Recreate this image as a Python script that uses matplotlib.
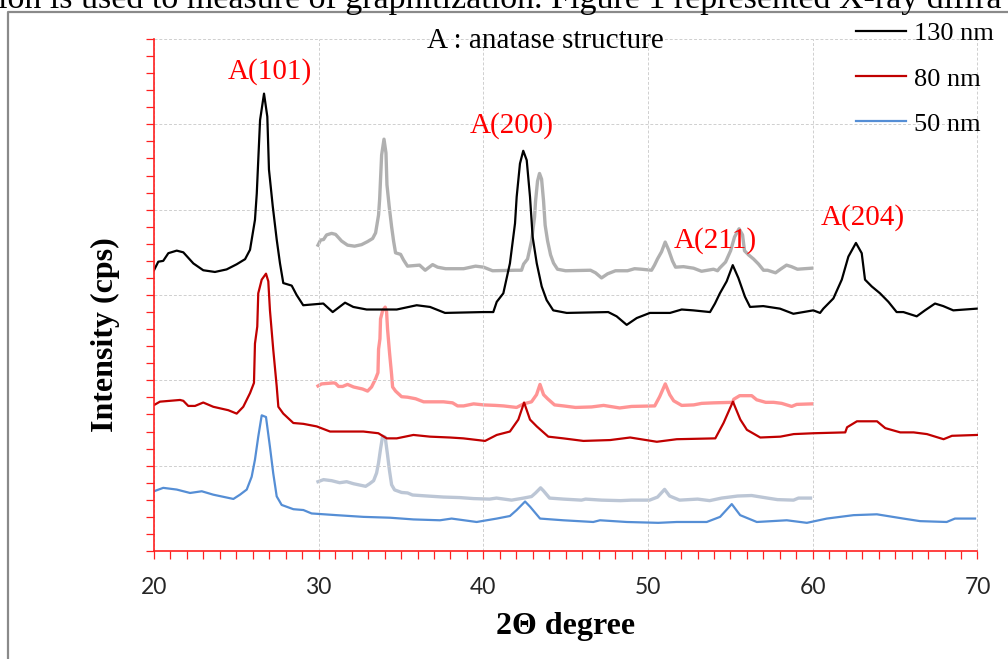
import matplotlib
matplotlib.use('Agg')
import matplotlib.pyplot as plt
from matplotlib.lines import Line2D
from matplotlib.ticker import MultipleLocator

# ─── DATA ────────────────────────────────────────────
x_130 = [20.0, 20.26, 20.56, 20.87, 21.38, 21.78, 22.39, 22.99, 23.70, 24.41,
         25.02, 25.53, 25.83, 26.13, 26.24, 26.33, 26.44, 26.68, 26.88, 26.98,
         27.21, 27.45, 27.65, 27.85, 28.36, 28.66, 29.06, 29.67, 30.28, 30.85,
         31.60, 32.10, 32.91, 34.74, 35.95, 36.76, 37.67, 39.99, 40.60, 40.81,
         41.21, 41.61, 41.92, 42.02, 42.22, 42.42, 42.63, 42.83, 42.99, 43.24,
         43.54, 43.84, 44.24, 45.06, 47.58, 48.09, 48.70, 49.31, 50.11, 51.33,
         52.04, 52.74, 53.76, 54.06, 54.36, 54.77, 55.14, 55.48, 55.88, 56.19,
         56.99, 58.01, 58.82, 60.03, 60.44, 60.64, 61.25, 61.76, 62.16, 62.62,
         62.97, 63.17, 63.58, 64.08, 64.59, 65.09, 65.50, 66.31, 66.81, 67.42,
         67.92, 68.53, 69.95]
y_130 = [329, 339, 340, 349, 352, 350, 337, 329, 327, 330,
         336, 342, 353, 388, 419, 458, 505, 536, 509, 447,
         404, 365, 337, 314, 311, 300, 288, 289, 290, 280,
         291, 286, 283, 283, 288, 286, 279, 280, 280, 292,
         302, 337, 384, 415, 454, 469, 458, 415, 368, 337,
         310, 294, 282, 279, 280, 275, 265, 273, 279, 279,
         283, 282, 280, 290, 302, 316, 335, 320, 298, 286,
         287, 284, 278, 282, 279, 284, 296, 318, 345, 361,
         349, 318, 310, 302, 292, 280, 280, 275, 282, 290,
         287, 282, 284]

x_80 = [20.0, 20.36, 21.58, 21.78, 22.08, 22.49, 22.99, 23.60, 24.51, 25.02,
        25.42, 25.83, 26.07, 26.13, 26.27, 26.33, 26.54, 26.80, 26.94, 27.04,
        27.24, 27.45, 27.55, 27.85, 28.46, 29.07, 29.88, 30.69, 31.70, 32.71,
        33.62, 34.13, 34.74, 35.75, 36.76, 37.97, 38.78, 40.10, 40.81, 41.61,
        42.12, 42.47, 42.83, 43.24, 43.94, 44.85, 46.07, 47.69, 48.91, 50.53,
        51.74, 54.08, 54.58, 55.15, 55.60, 56.00, 56.81, 58.03, 58.84, 60.05,
        61.97, 62.08, 62.68, 63.90, 64.40, 65.31, 66.12, 66.93, 67.94, 68.45,
        70.0]
y_80 = [171, 175, 177, 176, 170, 170, 174, 169, 165, 161,
        169, 185, 197, 243, 263, 302, 318, 325, 316, 282,
        236, 193, 169, 161, 150, 149, 146, 140, 140, 140,
        138, 132, 132, 136, 134, 133, 132, 129, 136, 140,
        154, 174, 154, 146, 134, 132, 129, 130, 133, 128,
        131, 132, 150, 175, 154, 142, 133, 134, 137, 138,
        139, 145, 152, 152, 144, 139, 139, 137, 131, 135,
        136]

x_50 = [20.0, 20.56, 21.38, 22.19, 22.90, 23.60, 24.82, 25.22, 25.63, 25.93,
        26.13, 26.33, 26.54, 26.80, 27.04, 27.24, 27.45, 27.75, 28.46, 29.07,
        29.57, 31.09, 32.71, 34.33, 35.75, 37.36, 38.07, 39.59, 40.81, 41.61,
        42.02, 42.53, 42.83, 43.44, 44.85, 46.67, 47.08, 48.70, 50.62, 51.74,
        53.56, 54.37, 55.08, 55.59, 56.60, 58.42, 59.64, 60.85, 62.47, 63.89,
        65.50, 66.51, 68.13, 68.63, 69.85]
y_50 = [70, 74, 72, 68, 70, 66, 61, 66, 72, 87,
        107, 134, 159, 157, 122, 91, 64, 54, 49, 48,
        44, 42, 40, 39, 37, 36, 38, 34, 38, 41,
        48, 58, 52, 38, 36, 34, 36, 34, 33, 34,
        34, 40, 55, 42, 34, 36, 33, 38, 42, 43,
        38, 35, 34, 38, 38]

labels = ['130 nm', '80 nm', '50 nm']
colors = ['black', '#c00000', '#558ed5']
ghost_colors = ['#b0b0b0', '#ff9494', '#bcc6d5']
ghost_shift = [0, -117, -203]   # faint shifted copy of the same scans

peak_names = ['A(101)', 'A(200)', 'A(211)', 'A(204)']
peak_x = [27.04, 41.7, 54.07, 63.04]
peak_y = [554, 490, 355, 382]

x_ticks = [20, 30, 40, 50, 60, 70]

top_line = "ion is used to measure of graphitization. Figure 1 represented X-ray diffra"

# ─── FIGURE ──────────────────────────────────────────
W, H = 1008, 659
fig = plt.figure(figsize=(W / 100, H / 100), dpi=100, facecolor='white')

series = [(x_130, y_130), (x_80, y_80), (x_50, y_50)]

# faint copy, scaled 0.6 and offset
ax_g = fig.add_axes([318 / W, 1 - 413.6 / H, 494 / W, 307.2 / H])
ax_g.set_xlim(20, 70)
ax_g.set_ylim(0, 600)
ax_g.axis('off')
ax_g.patch.set_alpha(0)
for (xs, ys), c, s in zip(series, ghost_colors, ghost_shift):
    ax_g.plot(xs, [v + s for v in ys], color=c, lw=2.4, clip_on=False,
              solid_joinstyle='round')

ax = fig.add_axes([154 / W, 1 - 551 / H, 823.5 / W, 512 / H])
ax.patch.set_alpha(0)
for (xs, ys), c, lab in zip(series, colors, labels):
    ax.plot(xs, ys, color=c, lw=1.6, label=lab, solid_joinstyle='round')

ax.set_xlim(20, 70)
ax.set_ylim(0, 600)
ax.set_xticks(x_ticks)
ax.set_xticklabels([str(t) for t in x_ticks], fontsize=16.5, family='Lato',
                   color='#262626')
ax.xaxis.set_minor_locator(MultipleLocator(1))
ax.yaxis.set_major_locator(MultipleLocator(100))
ax.yaxis.set_minor_locator(MultipleLocator(20))
ax.set_yticklabels([])
ax.tick_params(which='both', direction='out', color='#ff2020', length=5.5, width=0.9)
ax.tick_params(axis='x', which='major', pad=13)

for side in ['top', 'right']:
    ax.spines[side].set_visible(False)
for side in ['left', 'bottom']:
    ax.spines[side].set_color('#ff2020')
    ax.spines[side].set_linewidth(1.2)

ax.grid(True, which='major', color='#cfcfcf', linestyle=(0, (3, 2)), linewidth=0.7)

# peak labels
for name, px, py in zip(peak_names, peak_x, peak_y):
    ax.text(px, py, name, color='#ff0000', fontsize=21, family='Liberation Serif',
            ha='center', va='baseline')
ax.text(43.74, 589, 'A : anatase structure', color='black', fontsize=21,
        family='Liberation Serif', ha='center', va='baseline')

# legend
ax.legend(loc='upper left', bbox_to_anchor=(856 / W, 1 - 22 / H),
          bbox_transform=fig.transFigure, frameon=False, borderpad=0,
          borderaxespad=0, handlelength=1.9, handletextpad=0.3, labelspacing=0.82,
          prop={'family': 'Liberation Serif', 'size': 19})

# axis titles
fig.text(105 / W, 1 - 335 / H, 'Intensity (cps)', rotation=90, ha='center', va='center',
         fontsize=23, fontweight='bold', family='Liberation Serif')
fig.text(566 / W, 1 - 634 / H, '2Θ degree', ha='center', va='baseline',
         fontsize=23, fontweight='bold', family='Liberation Serif')

# page text above the figure (cut by the screenshot) and the frame of the figure
fig.text(-0.002, 1 - 8 / H, top_line, ha='left', va='baseline', fontsize=24.5,
         family='Liberation Serif')
fig.add_artist(Line2D([8 / W, 8 / W, 1.0], [0, 1 - 12 / H, 1 - 12 / H],
                      transform=fig.transFigure, color='#8a8a8a', lw=1.6))

plt.savefig('out.png', dpi=100, facecolor='white')
plt.close()
